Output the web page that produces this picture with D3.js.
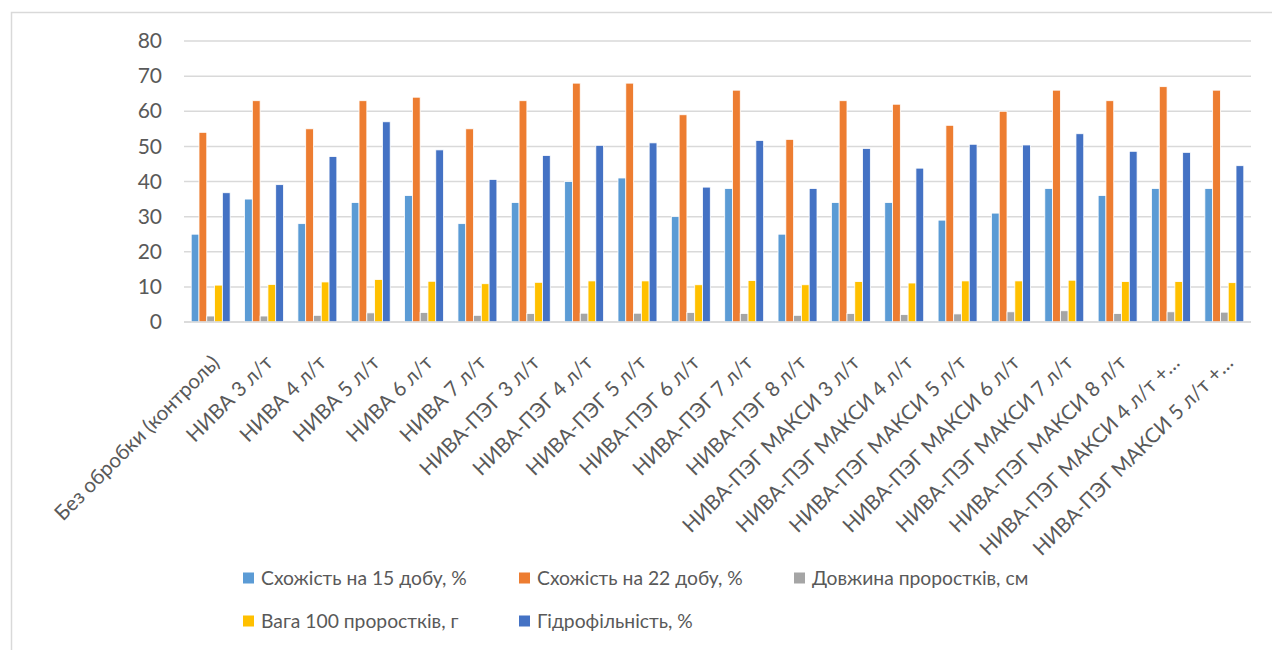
<!DOCTYPE html>
<html>
<head>
<meta charset="utf-8">
<script src="https://cdn.jsdelivr.net/npm/d3@7"></script>
<style>
  body { margin: 0; background: #fff; }
  text { font-family: Lato, "Noto Sans", sans-serif; fill: #595959; }
</style>
</head>
<body>
<script>
// categories (treatments)
var categories = [
  "Без обробки  (контроль)", "НИВА 3 л/т", "НИВА 4 л/т", "НИВА 5 л/т", "НИВА 6 л/т", "НИВА 7 л/т",
  "НИВА-ПЭГ 3 л/т", "НИВА-ПЭГ 4 л/т", "НИВА-ПЭГ 5 л/т", "НИВА-ПЭГ 6 л/т", "НИВА-ПЭГ 7 л/т", "НИВА-ПЭГ 8 л/т",
  "НИВА-ПЭГ МАКСИ 3 л/т", "НИВА-ПЭГ МАКСИ 4 л/т", "НИВА-ПЭГ МАКСИ 5 л/т", "НИВА-ПЭГ МАКСИ 6 л/т",
  "НИВА-ПЭГ МАКСИ 7 л/т", "НИВА-ПЭГ МАКСИ 8 л/т", "НИВА-ПЭГ МАКСИ 4 л/т +…", "НИВА-ПЭГ МАКСИ 5 л/т +…"
];

var seriesNames = ["Схожість на 15 добу, %", "Схожість на 22 добу, %", "Довжина проростків, см",
                   "Вага 100 проростків, г", "Гідрофільність, %"];
var colors = ["#5B9BD5", "#ED7D31", "#A5A5A5", "#FFC000", "#4472C4"];

var germ15 = [25, 35, 28, 34, 36, 28, 34, 40, 41, 30, 38, 25, 34, 34, 29, 31, 38, 36, 38, 38];
var germ22 = [54, 63, 55, 63, 64, 55, 63, 68, 68, 59, 66, 52, 63, 62, 56, 60, 66, 63, 67, 66];
var sproutLen = [1.7, 1.7, 1.9, 2.6, 2.7, 1.9, 2.4, 2.5, 2.5, 2.7, 2.4, 1.9, 2.4, 2.1, 2.3, 2.9, 3.2, 2.4, 2.9, 2.8];
var weight100 = [10.5, 10.7, 11.4, 12.1, 11.6, 10.9, 11.3, 11.7, 11.7, 10.6, 11.8, 10.6, 11.5, 11.1, 11.7, 11.7, 11.9, 11.5, 11.5, 11.2];
var hydrophil = [36.8, 39.1, 47.1, 57.0, 49.0, 40.6, 47.4, 50.3, 51.0, 38.4, 51.7, 38.0, 49.4, 43.8, 50.6, 50.4, 53.6, 48.6, 48.3, 44.5];

var yTicks = [0, 10, 20, 30, 40, 50, 60, 70, 80];

var allSeries = [germ15, germ22, sproutLen, weight100, hydrophil];

var width = 1272, height = 650;
var plot = {left: 184, right: 1251, top: 41, bottom: 322};

var svg = d3.select("body").append("svg")
            .attr("width", width)
            .attr("height", height);

// outer chart border (runs past the picture edge at right/bottom)
svg.append("rect")
   .attr("x", 11.5).attr("y", 12.5)
   .attr("width", width + 20).attr("height", height + 20)
   .attr("fill", "#fff")
   .attr("stroke", "#d9d9d9")
   .attr("stroke-width", 1.5);

var x0 = d3.scaleBand().domain(categories).range([plot.left, plot.right]).paddingInner(0.27).paddingOuter(0.135);
var x1 = d3.scaleBand().domain(d3.range(seriesNames.length)).range([0, x0.bandwidth()]);
var y = d3.scaleLinear().domain([0, 80]).range([plot.bottom, plot.top]);

// gridlines
svg.append("g")
   .selectAll("line")
   .data(yTicks)
   .enter()
   .append("line")
   .attr("x1", plot.left).attr("x2", plot.right)
   .attr("y1", d => y(d)).attr("y2", d => y(d))
   .attr("stroke", "#d9d9d9")
   .attr("stroke-width", 1.5);

// y axis labels
var yAxis = d3.axisLeft(y).tickValues(yTicks).tickSize(0).tickPadding(22);
svg.append("g")
   .attr("transform", "translate(" + plot.left + ",0)")
   .call(yAxis)
   .call(g => g.select(".domain").remove())
   .selectAll("text")
   .style("font-size", "21px")
   .attr("fill", "#595959");

// bars
var groups = svg.append("g")
   .selectAll("g")
   .data(categories)
   .enter()
   .append("g")
   .attr("transform", d => "translate(" + x0(d) + ",0)");

groups.selectAll("rect")
      .data((d, i) => allSeries.map((s, k) => ({k: k, v: s[i]})))
      .enter()
      .append("rect")
      .attr("x", d => x1(d.k))
      .attr("width", x1.bandwidth())
      .attr("y", d => y(d.v))
      .attr("height", d => y(0) - y(d.v))
      .attr("fill", d => colors[d.k])
      .attr("stroke", "#fff")
      .attr("stroke-width", 0.8);

// category labels, rotated -45
var xAxis = d3.axisBottom(x0).tickSize(0);
var xg = svg.append("g")
   .attr("transform", "translate(0," + plot.bottom + ")")
   .call(xAxis);
xg.select(".domain").remove();
xg.selectAll("text")
  .style("font-size", "20.5px")
  .attr("fill", "#595959")
  .attr("text-anchor", "end")
  .attr("dy", 0)
  .attr("y", 0)
  .attr("transform", "translate(10,42) rotate(-45)");

// axis baseline
svg.append("line")
   .attr("x1", plot.left).attr("x2", plot.right)
   .attr("y1", y(0)).attr("y2", y(0))
   .attr("stroke", "#d9d9d9")
   .attr("stroke-width", 1.5);

// legend
var legendPos = [[243, 578], [519, 578], [794, 578], [243, 621], [519, 621]];
var legend = svg.append("g")
   .selectAll("g")
   .data(seriesNames)
   .enter()
   .append("g")
   .attr("transform", (d, i) => "translate(" + legendPos[i][0] + "," + legendPos[i][1] + ")");

legend.append("rect")
      .attr("x", 0).attr("y", -5.5)
      .attr("width", 11).attr("height", 11)
      .attr("fill", (d, i) => colors[i]);

legend.append("text")
      .attr("x", 18)
      .attr("y", 0)
      .attr("dy", "0.35em")
      .style("font-size", "19.3px")
      .text(d => d);
</script>
</body>
</html>
